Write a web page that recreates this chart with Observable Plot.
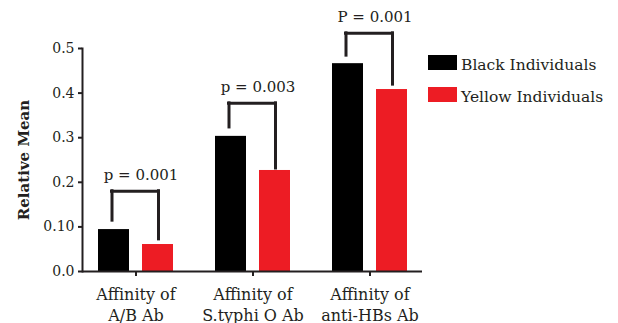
<!DOCTYPE html>
<html>
<head>
<meta charset="utf-8">
<script src="https://cdn.jsdelivr.net/npm/d3@7"></script>
<script src="https://cdn.jsdelivr.net/npm/@observablehq/plot@0.6"></script>
<style>
  html, body { margin: 0; padding: 0; background: #fff; }
  #wrap { position: relative; width: 618px; height: 323px; overflow: hidden; }
  #legend { position: absolute; left: 428px; top: 55px; font-family: "DejaVu Serif", serif; font-size: 15.5px; color: #231f20; }
  .item { display: flex; align-items: baseline; height: 32px; }
  .sw { display: inline-block; width: 29px; height: 15px; margin-right: 4px; }
</style>
</head>
<body>
<div id="wrap"><div id="legend"></div></div>
<script>
// ---- data ----
const groups = ["Affinity of\nA/B Ab", "Affinity of\nS.typhi O Ab", "Affinity of\nanti-HBs Ab"];
const seriesNames = ["Black Individuals", "Yellow Individuals"];
const seriesColors = ["#000000", "#ed1c24"];
const blackValues = [0.094, 0.303, 0.466];
const yellowValues = [0.0605, 0.2265, 0.408];
const pLabels = ["p = 0.001", "p = 0.003", "P = 0.001"];
const bracketTop = [0.18, 0.377, 0.534];
const bracketLeftEnd = [0.114, 0.323, 0.484];
const bracketRightEnd = [0.072, 0.231, 0.419];
const yTicks = [0, 0.1, 0.2, 0.3, 0.4, 0.5];
const yTickLabels = ["0.0", "0.10", "0.2", "0.3", "0.4", "0.5"];

const rows = groups.map((g, i) => ({
  group: g, black: blackValues[i], yellow: yellowValues[i],
  p: pLabels[i], top: bracketTop[i], left: bracketLeftEnd[i], right: bracketRightEnd[i]
}));

const ink = "#231f20";
const chart = Plot.plot({
  width: 618, height: 323,
  marginLeft: 82, marginRight: 196, marginTop: 48, marginBottom: 52,
  style: { fontFamily: "DejaVu Serif, serif", fontSize: "14px", color: ink, background: "transparent", overflow: "visible" },
  x: { domain: groups, paddingInner: 0.362, paddingOuter: 0.124 },
  y: { domain: [0, 0.5] },
  marks: [
    Plot.barY(rows, { x: "group", y: "black", fill: seriesColors[0], insetRight: 44 }),
    Plot.barY(rows, { x: "group", y: "yellow", fill: seriesColors[1], insetLeft: 44 }),
    Plot.tickY(rows, { x: "group", y: "top", insetLeft: 13.5, insetRight: 15, stroke: ink, strokeWidth: 3, strokeLinecap: "square" }),
    Plot.ruleX(rows, { x: "group", y1: "left", y2: "top", dx: -24, stroke: ink, strokeWidth: 3, strokeLinecap: "square" }),
    Plot.ruleX(rows, { x: "group", y1: "right", y2: "top", dx: 22.5, stroke: ink, strokeWidth: 3, strokeLinecap: "square" }),
    Plot.text(rows, { x: "group", y: "top", text: "p", dy: -11, dx: 5, lineAnchor: "bottom", fontSize: 15, fill: ink }),
    Plot.ruleY([0], { stroke: ink, strokeWidth: 2 }),
    Plot.frame({ anchor: "left", stroke: ink, strokeWidth: 2 }),
    Plot.axisY({ ticks: yTicks, tickFormat: (d, i) => yTickLabels[i], tickSize: 4, tickPadding: 4, fontSize: 14, strokeWidth: 2, label: null }),
    Plot.axisY({ ticks: [], label: "Relative Mean", labelArrow: "none", labelAnchor: "center", labelOffset: 64, fontSize: 15, fontWeight: "bold" }),
    Plot.axisX({ tickSize: 5, tickPadding: 9, fontSize: 16, lineHeight: 1.3, strokeWidth: 2, label: null })
  ]
});
document.getElementById("wrap").prepend(chart);

const legend = document.getElementById("legend");
seriesNames.forEach((name, i) => {
  const item = document.createElement("div");
  item.className = "item";
  const sw = document.createElement("span");
  sw.className = "sw";
  sw.style.background = seriesColors[i];
  const t = document.createElement("span");
  t.textContent = name;
  item.append(sw, t);
  legend.append(item);
});
</script>
</body>
</html>
